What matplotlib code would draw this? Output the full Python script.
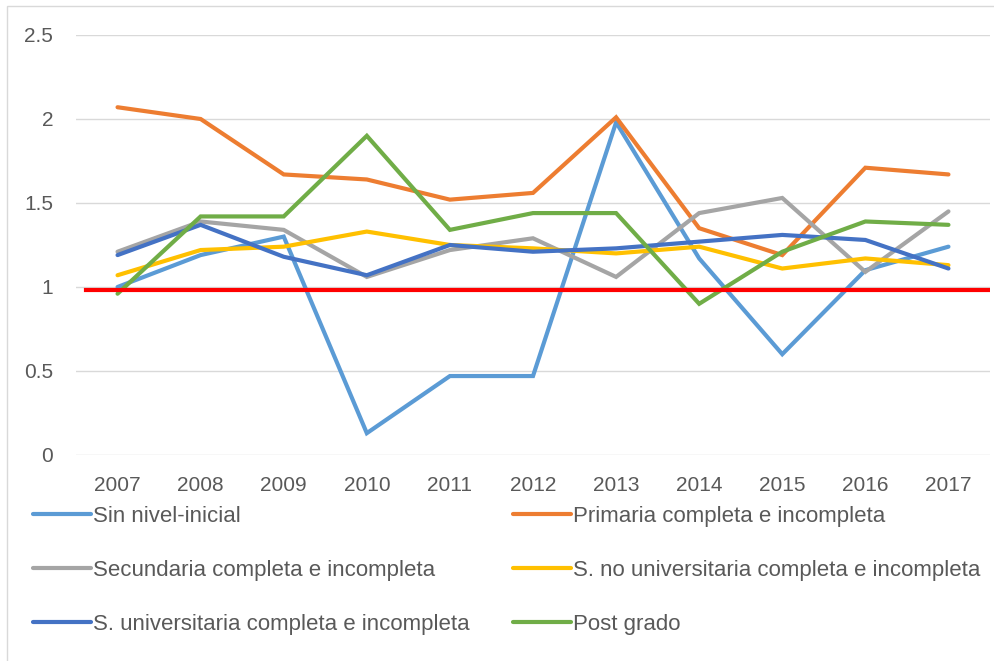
import matplotlib
matplotlib.use("Agg")
import matplotlib.pyplot as plt
from matplotlib.patches import Rectangle

plt.rcParams['font.family'] = ['Liberation Sans', 'DejaVu Sans']

years = ['2007', '2008', '2009', '2010', '2011', '2012', '2013', '2014', '2015', '2016', '2017']

sin_nivel = [1.00, 1.19, 1.30, 0.13, 0.47, 0.47, 1.98, 1.17, 0.60, 1.10, 1.24]
primaria = [2.07, 2.00, 1.67, 1.64, 1.52, 1.56, 2.01, 1.35, 1.19, 1.71, 1.67]
secundaria = [1.21, 1.39, 1.34, 1.06, 1.22, 1.29, 1.06, 1.44, 1.53, 1.09, 1.45]
s_no_univ = [1.07, 1.22, 1.24, 1.33, 1.25, 1.23, 1.20, 1.24, 1.11, 1.17, 1.13]
s_univ = [1.19, 1.37, 1.18, 1.07, 1.25, 1.21, 1.23, 1.27, 1.31, 1.28, 1.11]
post_grado = [0.96, 1.42, 1.42, 1.90, 1.34, 1.44, 1.44, 0.90, 1.21, 1.39, 1.37]
reference_value = 0.985

labels = ['Sin nivel-inicial', 'Primaria completa e incompleta',
          'Secundaria completa e incompleta', 'S. no universitaria completa e incompleta',
          'S. universitaria completa e incompleta', 'Post grado']
series = [sin_nivel, primaria, secundaria, s_no_univ, s_univ, post_grado]
colors = ['#5B9BD5', '#ED7D31', '#A5A5A5', '#FFC000', '#4472C4', '#70AD47']

fig = plt.figure(figsize=(9.95, 6.61), dpi=100)
ax = fig.add_axes([76/995, 1 - 455/661, 914/995, 420/661])

x = list(range(len(years)))
lines = []
for vals, c, lab in zip(series, colors, labels):
    ln, = ax.plot(x, vals, color=c, lw=3, label=lab, solid_capstyle='round', solid_joinstyle='miter', zorder=3)
    lines.append(ln)

ax.axhline(reference_value, xmin=0.011, xmax=0.998, color='#FF0000', lw=3, zorder=4)

ax.set_xlim(-0.5, len(years) - 0.5)
ax.set_ylim(0, 2.5)
ax.set_yticks([0, 0.5, 1, 1.5, 2, 2.5])
ax.set_yticklabels(['0', '0.5', '1', '1.5', '2', '2.5'])
ax.set_xticks(x)
ax.set_xticklabels(years)
ax.grid(axis='y', color='#D9D9D9', lw=1)
ax.set_axisbelow(True)
for s in ax.spines.values():
    s.set_visible(False)
ax.tick_params(axis='both', length=0, labelsize=15, colors='#595959')
ax.tick_params(axis='y', pad=16.5)
ax.tick_params(axis='x', pad=15)

leg_kw = dict(frameon=False, loc='upper left', fontsize=16, handlelength=2.6,
              handletextpad=0.12, labelspacing=1.48, borderaxespad=0, borderpad=0)
leg1 = fig.legend([lines[0], lines[2], lines[4]], [labels[0], labels[2], labels[4]],
                  bbox_to_anchor=(33/995, 1 - 506/661), **leg_kw)
leg2 = fig.legend([lines[1], lines[3], lines[5]], [labels[1], labels[3], labels[5]],
                  bbox_to_anchor=(513/995, 1 - 506/661), **leg_kw)
for lg in (leg1, leg2):
    for t in lg.get_texts():
        t.set_color('#595959')

fig.patches.append(Rectangle((7/995, -0.05), 1.2, 1 - 6/661 + 0.05, transform=fig.transFigure,
                             fill=False, edgecolor='#D9D9D9', lw=1))

fig.savefig('out.png', dpi=100)
